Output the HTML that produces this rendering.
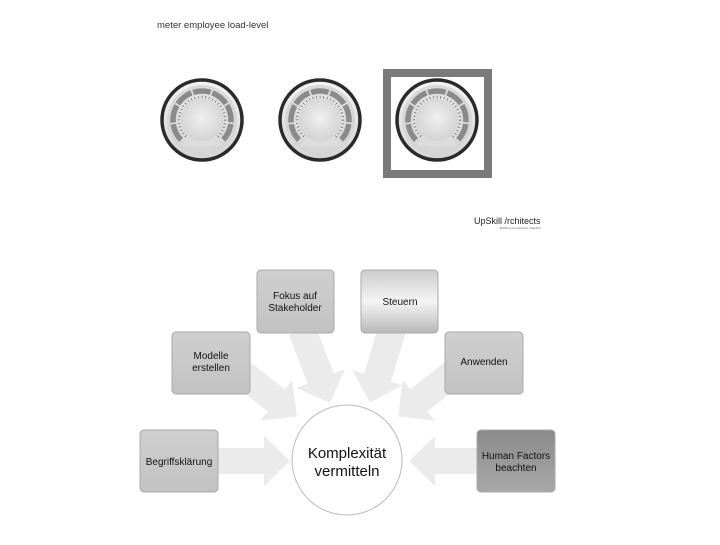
<!DOCTYPE html>
<html><head><meta charset="utf-8"><style>
body{margin:0;background:#fff;width:720px;height:540px;overflow:hidden;font-family:"Liberation Sans",Arial,sans-serif}
</style></head><body>
<svg width="720" height="540" viewBox="0 0 720 540" xmlns="http://www.w3.org/2000/svg">
<defs>
<radialGradient id="face" cx="50%" cy="45%" r="60%"><stop offset="0" stop-color="#f0f0f0"/><stop offset="1" stop-color="#d0d0d0"/></radialGradient>
<linearGradient id="rim" x1="0" y1="0" x2="0" y2="1"><stop offset="0" stop-color="#f4f4f4"/><stop offset="1" stop-color="#d4d4d4"/></linearGradient>
<linearGradient id="box" x1="0" y1="0" x2="0" y2="1"><stop offset="0" stop-color="#cfcfcf"/><stop offset="1" stop-color="#c2c2c2"/></linearGradient>
<linearGradient id="steu" x1="0" y1="0" x2="0" y2="1"><stop offset="0" stop-color="#cccccc"/><stop offset="0.5" stop-color="#f4f4f4"/><stop offset="1" stop-color="#b8b8b8"/></linearGradient>
<linearGradient id="hf" x1="0" y1="0" x2="0" y2="1"><stop offset="0" stop-color="#8a8a8a"/><stop offset="1" stop-color="#a8a8a8"/></linearGradient>
<g id="gauge">
<circle r="40" fill="url(#rim)" stroke="#2a2a2a" stroke-width="3.5"/>
<circle r="35" fill="url(#face)"/>
<g fill="none" stroke="#8a8a8a" stroke-width="5.5">
<circle r="29" stroke-dasharray="17.7 200" transform="rotate(136.5)"/>
<circle r="29" stroke-dasharray="17.7 200" transform="rotate(175.1)"/>
<circle r="29" stroke-dasharray="17.7 200" transform="rotate(213.6)"/>
<circle r="29" stroke-dasharray="17.7 200" transform="rotate(252.2)"/>
<circle r="29" stroke-dasharray="17.7 200" transform="rotate(290.8)"/>
<circle r="29" stroke-dasharray="17.7 200" transform="rotate(329.4)"/>
<circle r="29" stroke-dasharray="17.7 200" transform="rotate(367.9)"/>
</g>
<circle r="23" fill="none" stroke="#555" stroke-width="2.5" stroke-dasharray="0.6 3"/>
<polygon points="0,0 -20,26 20,26" fill="#dcdcdc"/>
<circle r="21" fill="url(#face)"/>
</g>
</defs>
<text x="157" y="28" font-size="9.5" fill="#333">meter employee load-level</text>
<rect x="387" y="73" width="101" height="101" fill="none" stroke="#7a7a7a" stroke-width="8"/>
<use href="#gauge" x="202" y="120"/>
<use href="#gauge" x="320" y="120"/>
<use href="#gauge" x="437" y="120"/>
<text x="474" y="224" font-size="9" fill="#222">UpSkill <tspan>/</tspan>rchitects</text>
<text x="500" y="229" font-size="3" fill="#666">Building Competence Together</text>

<g fill="#ebebeb">
<polygon transform="translate(218,461)" points="0,-13 46,-13 46,-25 72,0 46,25 46,13 0,13"/>
<polygon transform="translate(477,461) rotate(180)" points="0,-13 42,-13 42,-25 68,0 42,25 42,13 0,13"/>
<polygon transform="translate(240,372) rotate(38)" points="0,-14 46,-14 46,-26 72,0 46,26 46,14 0,14"/>
<polygon transform="translate(455,372) rotate(142)" points="0,-14 46,-14 46,-26 72,0 46,26 46,14 0,14"/>
<polygon transform="translate(302,330) rotate(69)" points="0,-14 52,-14 52,-26 78,0 52,26 52,14 0,14"/>
<polygon transform="translate(392,330) rotate(107)" points="0,-14 50,-14 50,-26 76,0 50,26 50,14 0,14"/>
</g>

<circle cx="347" cy="460" r="55" fill="#fff" stroke="#bbb" stroke-width="1"/>
<text x="347" y="458" font-size="15" text-anchor="middle" fill="#111">Komplexität</text>
<text x="347" y="476" font-size="15" text-anchor="middle" fill="#111">vermitteln</text>

<g stroke="#aaa" stroke-width="1">
<rect x="257" y="270" width="77" height="63" rx="4" fill="url(#box)"/>
<rect x="361" y="270" width="77" height="63" rx="4" fill="url(#steu)"/>
<rect x="172" y="332" width="78" height="62" rx="4" fill="url(#box)"/>
<rect x="445" y="332" width="78" height="62" rx="4" fill="url(#box)"/>
<rect x="140" y="430" width="78" height="62" rx="4" fill="url(#box)"/>
<rect x="477" y="430" width="78" height="62" rx="4" fill="url(#hf)"/>
</g>
<g font-size="10" text-anchor="middle" fill="#111">
<text x="295" y="299">Fokus auf</text><text x="295" y="311">Stakeholder</text>
<text x="400" y="305">Steuern</text>
<text x="211" y="359">Modelle</text><text x="211" y="371">erstellen</text>
<text x="484" y="365">Anwenden</text>
<text x="179" y="465">Begriffsklärung</text>
<text x="516" y="459">Human Factors</text><text x="516" y="471">beachten</text>
</g>
</svg>
</body></html>
